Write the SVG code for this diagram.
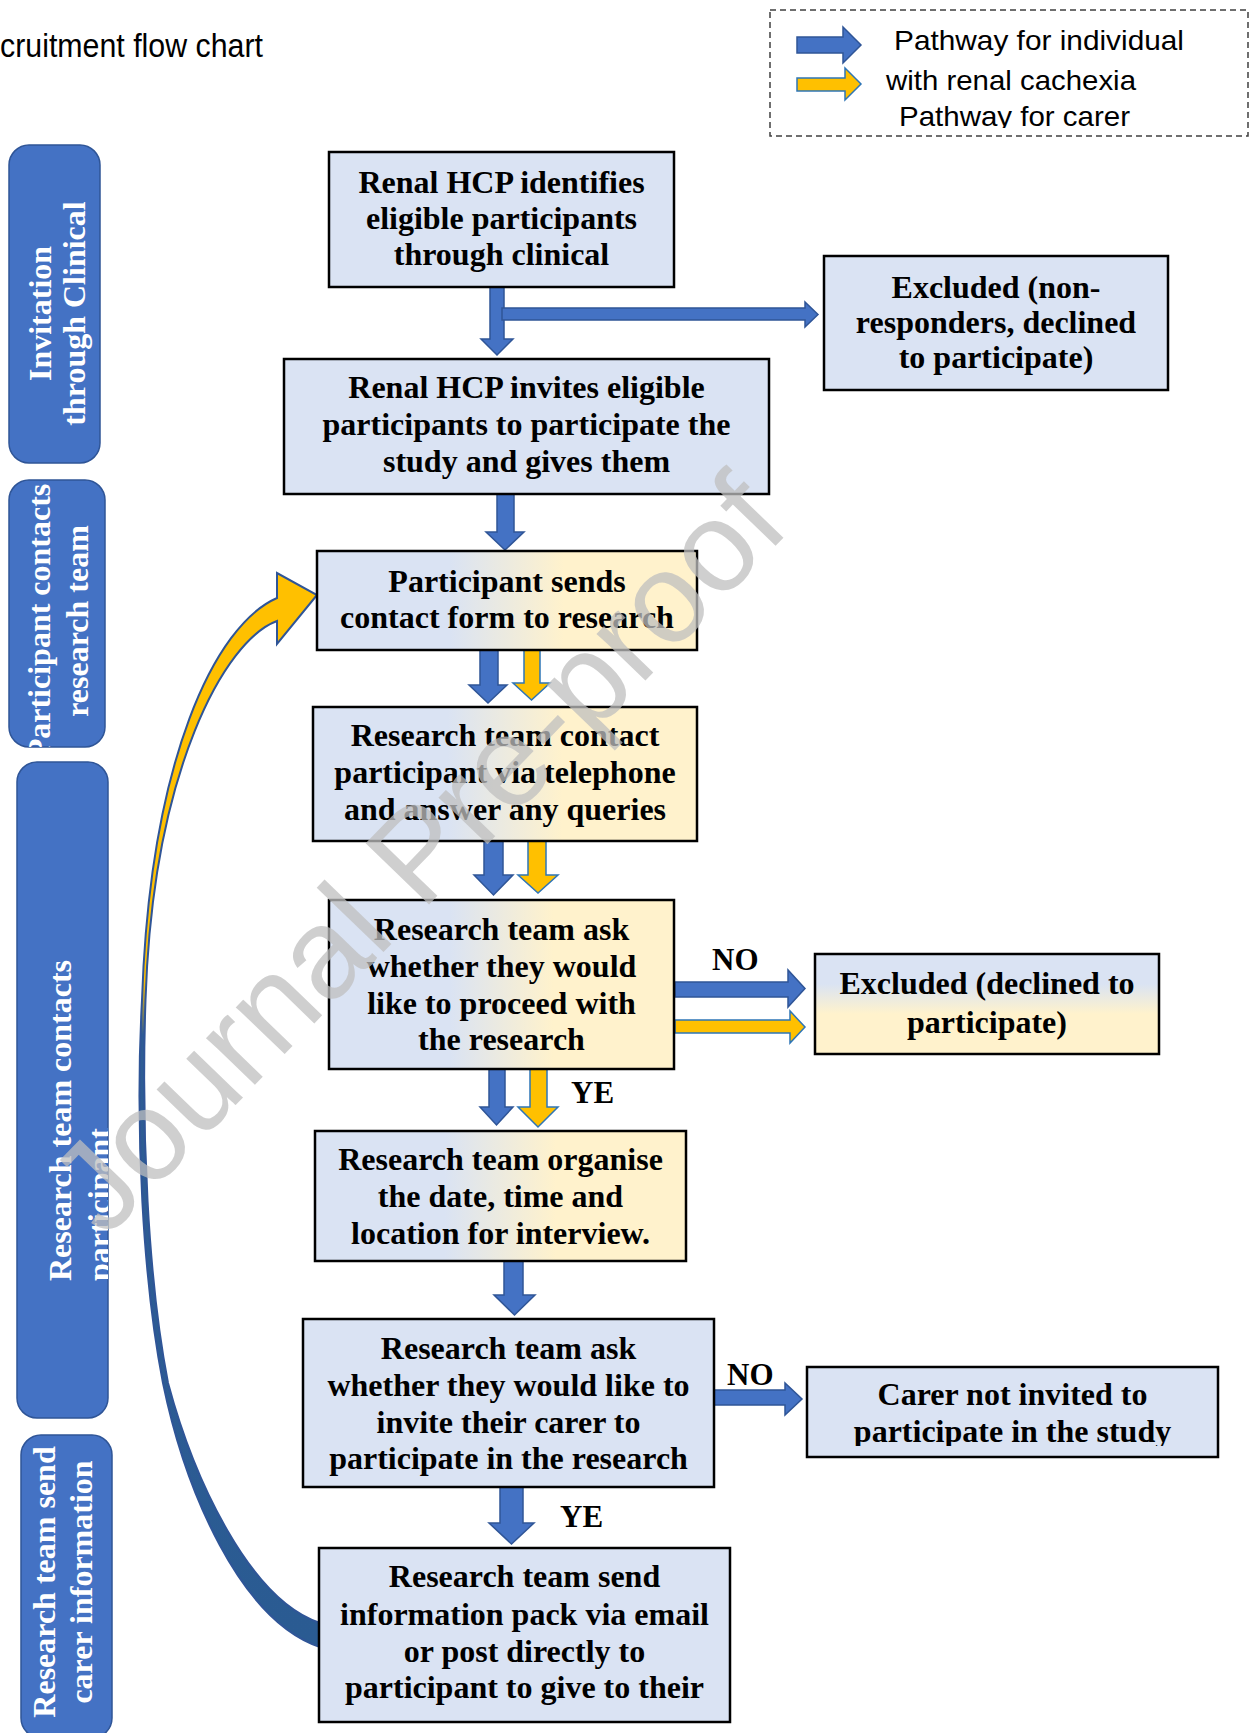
<svg xmlns="http://www.w3.org/2000/svg" width="1250" height="1733" viewBox="0 0 1250 1733">
<style>
.box{stroke:#000;stroke-width:2.5}
.bl{fill:#DAE3F3}
.gh{fill:url(#gH)}
.t{font-family:"Liberation Serif","Times New Roman",serif;font-weight:bold;font-size:32px;fill:#000;text-anchor:middle}
.lb{font-family:"Liberation Serif","Times New Roman",serif;font-weight:bold;font-size:31px;fill:#000}
.band{fill:#4472C4;stroke:#2F5597;stroke-width:1.5}
.bt{font-family:"Liberation Serif","Times New Roman",serif;font-weight:bold;font-size:32px;fill:#fff}
.ab{fill:#4472C4;stroke:#2F5597;stroke-width:1.5}
.ay{fill:#FFC000;stroke:#2E75B6;stroke-width:1.5}
.sans{font-family:"Liberation Sans",Arial,sans-serif;fill:#000}
</style>
<defs>
<linearGradient id="gH" x1="0" y1="0" x2="1" y2="0">
<stop offset="0" stop-color="#DAE3F3"/><stop offset="0.35" stop-color="#DAE3F3"/><stop offset="0.65" stop-color="#FFF2CC"/><stop offset="1" stop-color="#FFF2CC"/>
</linearGradient>
<linearGradient id="gV" x1="0" y1="0" x2="0" y2="1">
<stop offset="0" stop-color="#DAE3F3"/><stop offset="0.3" stop-color="#DAE3F3"/><stop offset="0.6" stop-color="#FFF2CC"/><stop offset="1" stop-color="#FFF2CC"/>
</linearGradient>
<linearGradient id="gCurve" gradientUnits="userSpaceOnUse" x1="0" y1="570" x2="0" y2="1650">
<stop offset="0" stop-color="#FFC000"/><stop offset="0.38" stop-color="#FFC000"/><stop offset="0.43" stop-color="#2E5C94"/><stop offset="1" stop-color="#2A5B92"/>
</linearGradient>
<clipPath id="cpLegend"><rect x="770" y="10" width="480" height="118"/></clipPath>
<clipPath id="cpCarer"><rect x="807" y="1367" width="411" height="79"/></clipPath>
<clipPath id="cpB1"><rect x="9" y="145" width="91" height="318" rx="20"/></clipPath>
<clipPath id="cpB2"><rect x="9" y="480" width="96" height="267" rx="20"/></clipPath>
<clipPath id="cpB3"><rect x="17" y="762" width="91" height="656" rx="20"/></clipPath>
<clipPath id="cpB4"><rect x="21" y="1435" width="91" height="303" rx="20"/></clipPath>
</defs>
<rect width="1250" height="1733" fill="#fff"/>

<text class="sans" x="0" y="57" font-size="33" textLength="263" lengthAdjust="spacingAndGlyphs">cruitment flow chart</text>

<g id="legend">
<rect x="770" y="10" width="478" height="126" fill="none" stroke="#404040" stroke-width="1.5" stroke-dasharray="6 4"/>
<polygon class="ab" points="797,37 843,37 843,27 861,45 843,63 843,53 797,53"/>
<polygon class="ay" points="797,78 845,78 845,68 861,84 845,100 845,91 797,91"/>
<g clip-path="url(#cpLegend)">
<text class="sans" x="894" y="50" font-size="28" textLength="290" lengthAdjust="spacingAndGlyphs">Pathway for individual</text>
<text class="sans" x="886" y="90" font-size="28" textLength="250" lengthAdjust="spacingAndGlyphs">with renal cachexia</text>
<text class="sans" x="899" y="126" font-size="28" textLength="231" lengthAdjust="spacingAndGlyphs">Pathway for carer</text>
</g>
</g>

<g id="band1">
<rect class="band" x="9" y="145" width="91" height="318" rx="20"/>
<g clip-path="url(#cpB1)" text-anchor="middle">
<text class="bt" transform="translate(51,313.5) rotate(-90)">Invitation</text>
<text class="bt" transform="translate(85,313.5) rotate(-90)">through Clinical</text>
</g>
</g>
<g id="band2">
<rect class="band" x="9" y="480" width="96" height="267" rx="20"/>
<g clip-path="url(#cpB2)" text-anchor="middle">
<text class="bt" transform="translate(50,621) rotate(-90)">Participant contacts</text>
<text class="bt" transform="translate(88,621) rotate(-90)">research team</text>
</g>
</g>
<g id="band3">
<rect class="band" x="17" y="762" width="91" height="656" rx="20"/>
<g clip-path="url(#cpB3)">
<text class="bt" transform="translate(71,1281) rotate(-90)">Research team contacts</text>
<text class="bt" transform="translate(110,1281) rotate(-90)">participant</text>
</g>
</g>
<g id="band4">
<rect class="band" x="21" y="1435" width="91" height="303" rx="20"/>
<g clip-path="url(#cpB4)" text-anchor="middle">
<text class="bt" transform="translate(55,1582) rotate(-90)">Research team send</text>
<text class="bt" transform="translate(92,1582) rotate(-90)">carer information</text>
</g>
</g>

<g id="connectors">
<path id="carer-loop" d="M 277,598 C 215,625 150,760 142,1000 C 135,1130 143,1280 163,1383 C 185,1490 240,1620 320,1647 L 320,1623 C 250,1600 194,1480 168,1383 C 148,1280 141,1130 145.5,1000 C 153,770 225,640 277,621 L 277,644 L 317,595 L 277,573 Z" fill="url(#gCurve)" stroke="#2F5597" stroke-width="2" stroke-linejoin="miter"/>
<polygon class="ab" points="490,287 504,287 504,339 513,339 497,355 481,339 490,339"/>
<polygon class="ab" points="502,308 805,308 805,302 818,314.5 805,327 805,320 502,320"/>
<polygon class="ab" points="497,494 514,494 514,532 524,532 505,550 486,532 497,532"/>
<polygon class="ab" points="480,650 498,650 498,685 507,685 488,703 469,685 480,685"/>
<polygon class="ay" points="524,650 540,650 540,683 550,683 531.5,700 513,683 524,683"/>
<polygon class="ab" points="484,841 503,841 503,875 513,875 493.5,895 474,875 484,875"/>
<polygon class="ay" points="528,841 546,841 546,875 558,875 538,893 518,875 528,875"/>
<polygon class="ab" points="489,1069 505,1069 505,1107 513,1107 496.5,1125 480,1107 489,1107"/>
<polygon class="ay" points="530,1069 547,1069 547,1107 558,1107 538,1127 518,1107 530,1107"/>
<polygon class="ab" points="504,1261 523,1261 523,1295 535,1295 514.5,1315 494,1295 504,1295"/>
<polygon class="ab" points="500,1487 523,1487 523,1523 534,1523 511.5,1544 489,1523 500,1523"/>
<polygon class="ab" points="675,982 788,982 788,970 805,988.5 788,1007 788,997 675,997"/>
<polygon class="ay" points="675,1020 790,1020 790,1011 805,1027 790,1043 790,1033 675,1033"/>
<polygon class="ab" points="714,1390 785,1390 785,1383 802,1399 785,1415 785,1405 714,1405"/>
<text class="lb" x="712" y="970">NO</text>
<text class="lb" x="727" y="1385">NO</text>
<text class="lb" x="571" y="1103">YE</text>
<text class="lb" x="560" y="1527">YE</text>
</g>

<g id="n1">
<rect class="box bl" x="329" y="152" width="345" height="135"/>
<text class="t" x="501.5" y="193">Renal HCP identifies</text>
<text class="t" x="501.5" y="229">eligible participants</text>
<text class="t" x="501.5" y="265">through clinical</text>
</g>
<g id="n-excluded1">
<rect class="box bl" x="824" y="256" width="344" height="134"/>
<text class="t" x="996" y="298">Excluded (non-</text>
<text class="t" x="996" y="333">responders, declined</text>
<text class="t" x="996" y="368">to participate)</text>
</g>
<g id="n2">
<rect class="box bl" x="284" y="359" width="485" height="135"/>
<text class="t" x="526.5" y="398">Renal HCP invites eligible</text>
<text class="t" x="526.5" y="435">participants to participate the</text>
<text class="t" x="526.5" y="472">study and gives them</text>
</g>
<g id="n3">
<rect class="box gh" x="317" y="551" width="380" height="99"/>
<text class="t" x="507" y="592">Participant sends</text>
<text class="t" x="507" y="628">contact form to research</text>
</g>
<g id="n4">
<rect class="box gh" x="313" y="707" width="384" height="134"/>
<text class="t" x="505" y="746">Research team contact</text>
<text class="t" x="505" y="783">participant via telephone</text>
<text class="t" x="505" y="820">and answer any queries</text>
</g>
<g id="n5">
<rect class="box gh" x="329" y="900" width="345" height="169"/>
<text class="t" x="501.5" y="940">Research team ask</text>
<text class="t" x="501.5" y="977">whether they would</text>
<text class="t" x="501.5" y="1014">like to proceed with</text>
<text class="t" x="501.5" y="1050">the research</text>
</g>
<g id="n-excluded2">
<rect class="box" fill="url(#gV)" x="815" y="954" width="344" height="100"/>
<text class="t" x="987" y="994">Excluded (declined to</text>
<text class="t" x="987" y="1033">participate)</text>
</g>
<g id="n6">
<rect class="box gh" x="315" y="1131" width="371" height="130"/>
<text class="t" x="500.5" y="1170">Research team organise</text>
<text class="t" x="500.5" y="1207">the date, time and</text>
<text class="t" x="500.5" y="1244">location for interview.</text>
</g>
<g id="n7">
<rect class="box bl" x="303" y="1319" width="411" height="168"/>
<text class="t" x="508.5" y="1359">Research team ask</text>
<text class="t" x="508.5" y="1396">whether they would like to</text>
<text class="t" x="508.5" y="1433">invite their carer to</text>
<text class="t" x="508.5" y="1469">participate in the research</text>
</g>
<g id="n-carer">
<rect class="box bl" x="807" y="1367" width="411" height="90"/>
<g clip-path="url(#cpCarer)">
<text class="t" x="1012.5" y="1405">Carer not invited to</text>
<text class="t" x="1012.5" y="1442">participate in the study</text>
</g>
</g>
<g id="n8">
<rect class="box bl" x="319" y="1548" width="411" height="174"/>
<text class="t" x="524.5" y="1587">Research team send</text>
<text class="t" x="524.5" y="1625">information pack via email</text>
<text class="t" x="524.5" y="1662">or post directly to</text>
<text class="t" x="524.5" y="1698">participant to give to their</text>
</g>

<text x="449" y="884" transform="rotate(-46 449 884)" text-anchor="middle" font-family="'Liberation Sans',Arial,sans-serif" font-size="128" fill="#BFBFBF" fill-opacity="0.75">Journal Pre-proof</text>
</svg>
